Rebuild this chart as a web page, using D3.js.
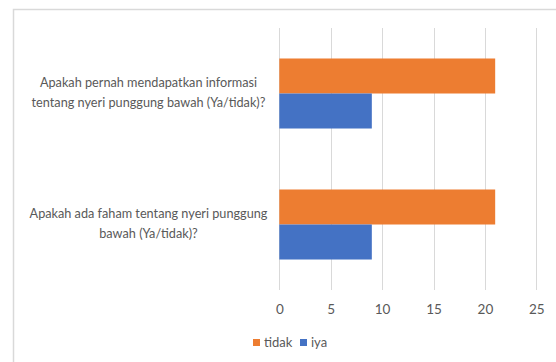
<!DOCTYPE html>
<html>
<head>
<meta charset="utf-8">
<script src="https://cdn.jsdelivr.net/npm/d3@7"></script>
<style>
  html, body { margin: 0; padding: 0; background: #fff; }
  svg { display: block; }
  text { font-family: Lato, "Open Sans", sans-serif; fill: #595959; }
</style>
</head>
<body>
<svg id="chart" width="556" height="362"></svg>
<script>
// Questions (each wrapped onto two lines)
const categories = [
  ["Apakah pernah mendapatkan informasi", "tentang nyeri punggung bawah (Ya/tidak)?"],
  ["Apakah ada faham tentang nyeri punggung", "bawah (Ya/tidak)?"]
];
const seriesNames = ["tidak", "iya"];
const tidakValues = [21, 21];
const iyaValues = [9, 9];
const xTicks = [0, 5, 10, 15, 20, 25];
const colors = ["#ED7D31", "#4472C4"];

const seriesValues = [tidakValues, iyaValues];
const catKeys = categories.map((c, i) => "c" + i);

const svg = d3.select("#chart");

// Chart frame (top and left edges visible)
svg.append("path")
  .attr("d", "M13.5,362 V9.5 H556")
  .attr("fill", "none")
  .attr("stroke", "#d9d9d9")
  .attr("stroke-width", 1.5);

const plot = { left: 279.3, right: 536.3, top: 28, bottom: 290 };

const x = d3.scaleLinear().domain([0, 25]).range([plot.left, plot.right]);
const y0 = d3.scaleBand().domain(catKeys).range([plot.top, plot.bottom]).padding(0);
const y1 = d3.scaleBand().domain(seriesNames).range([0, y0.bandwidth()])
  .paddingInner(0).paddingOuter(0.871);

// Vertical gridlines
svg.append("g")
  .selectAll("line")
  .data(xTicks)
  .join("line")
  .attr("x1", d => Math.round(x(d)) + 0.5)
  .attr("x2", d => Math.round(x(d)) + 0.5)
  .attr("y1", plot.top)
  .attr("y2", plot.bottom)
  .attr("stroke", "#d9d9d9")
  .attr("stroke-width", 1);

// Bars
const groups = svg.append("g")
  .selectAll("g")
  .data(catKeys)
  .join("g")
  .attr("transform", d => `translate(0,${y0(d)})`);

groups.selectAll("rect")
  .data((d, i) => seriesNames.map((s, j) => ({ s, v: seriesValues[j][i], j })))
  .join("rect")
  .attr("x", x(0))
  .attr("y", d => y1(d.s))
  .attr("width", d => x(d.v) - x(0))
  .attr("height", y1.bandwidth())
  .attr("fill", d => colors[d.j]);

// X axis tick labels
const xAxis = d3.axisBottom(x).tickValues(xTicks).tickSize(0).tickPadding(0);
const xg = svg.append("g")
  .attr("transform", `translate(0,${plot.bottom})`)
  .call(xAxis);
xg.select(".domain").remove();
xg.selectAll("text")
  .attr("dy", null)
  .attr("y", 24)
  .style("font-size", "13.5px")
  .style("fill", "#595959")
  .style("font-family", "Lato, 'Open Sans', sans-serif");

// Category labels, centred in the left margin
const labelCx = 148.5;
const lineGap = 20;
const labels = svg.append("g")
  .selectAll("text")
  .data(categories)
  .join("text")
  .attr("text-anchor", "middle")
  .style("font-size", "12.7px");

labels.each(function (lines, i) {
  const cy = y0(catKeys[i]) + y0.bandwidth() / 2 - 1;
  const start = cy - (lines.length - 1) * lineGap / 2;
  d3.select(this).selectAll("tspan")
    .data(lines)
    .join("tspan")
    .attr("x", labelCx)
    .attr("y", (d, k) => start + k * lineGap)
    .attr("dy", "0.35em")
    .text(d => d);
});

// Legend
const legend = svg.append("g").attr("transform", "translate(253,339)");
const legendOffsets = [0, 47];
seriesNames.forEach((name, i) => {
  const g = legend.append("g").attr("transform", `translate(${legendOffsets[i]},0)`);
  g.append("rect").attr("width", 7).attr("height", 7).attr("fill", colors[i]);
  g.append("text")
    .attr("x", 11)
    .attr("y", 3.5)
    .attr("dy", "0.35em")
    .style("font-size", "13px")
    .text(name);
});
</script>
</body>
</html>
